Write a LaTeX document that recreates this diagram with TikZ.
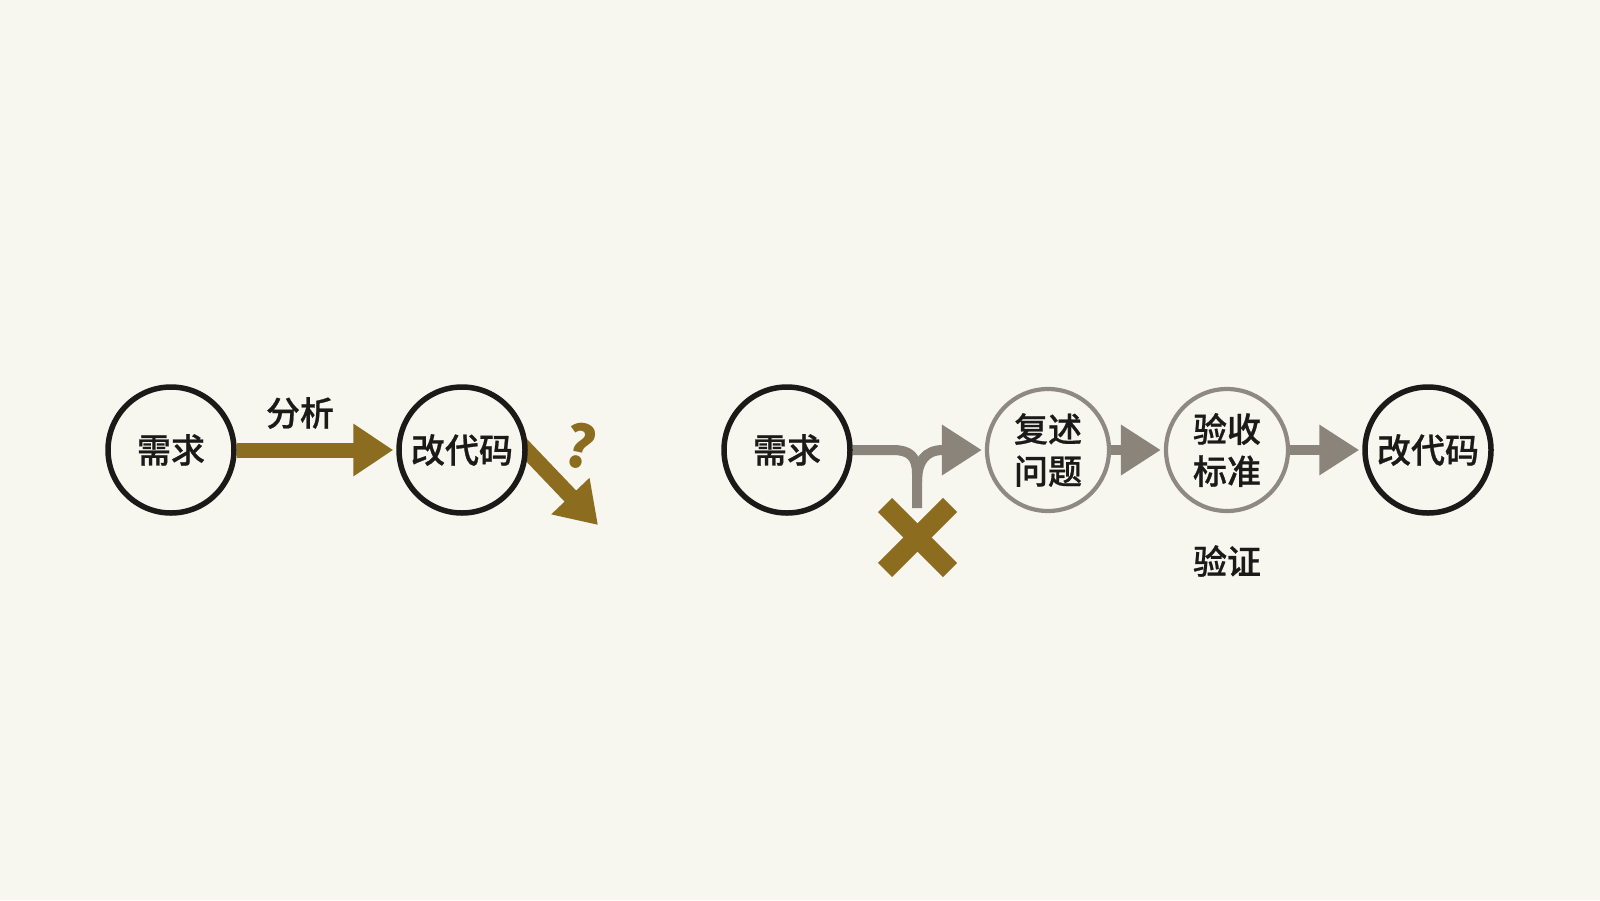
\documentclass[tikz,border=0pt]{standalone}
\usepackage{fontspec}
\newfontfamily\cjk{Noto Sans CJK SC Medium}[FakeBold=0.7]
\newfontfamily\cjkb{Noto Sans CJK SC}
\usetikzlibrary{arrows.meta}
\pgfdeclarelayer{background}
\pgfsetlayers{background,main}
\definecolor{bg}{HTML}{F7F6EF}
\definecolor{gold}{HTML}{8C6D1F}
\definecolor{arrgray}{HTML}{8A847B}
\definecolor{ringgray}{HTML}{8E8982}
\definecolor{ink}{HTML}{1C1A18}
\tikzset{
  blackring/.style={circle, draw=ink, line width=2.75pt, fill=bg, inner sep=0pt,
    minimum size=63pt, font=\cjk\fontsize{17}{21}\selectfont, text=ink, align=center},
  grayring/.style={circle, draw=ringgray, line width=2.1pt, fill=bg, inner sep=0pt,
    minimum size=61pt, font=\cjk\fontsize{17}{21}\selectfont, text=ink, align=center},
  lbl/.style={font=\cjk\fontsize{17}{21}\selectfont, text=ink, inner sep=0pt},
  goldarrow/.style={draw=gold, line width=7.5pt, -{Triangle[length=20pt,width=25pt]}, shorten >=1.5pt},
  grayarrow/.style={draw=arrgray, line width=5pt, -{Triangle[length=20pt,width=24pt]}, shorten >=1.5pt},
  grayline/.style={draw=arrgray, line width=5pt},
  crossbar/.style={draw=gold, line width=10pt, line cap=butt},
  qmark/.style={font=\cjkb\bfseries\fontsize{29}{29}\selectfont, text=gold, inner sep=0pt, rotate=-12}
}
\begin{document}
\begin{tikzpicture}[x=0.5pt,y=-0.5pt]
\begin{pgfonlayer}{background}
\fill[bg] (0,0) rectangle (1600,900);
\end{pgfonlayer}
\useasboundingbox (0,0) rectangle (1600,900);
% left group
\node[blackring] (n1) at (171,450) {需求};
\node[blackring] (n2) at (462,450) {改代码};
\node[lbl] (l1) at (300,413) {分析};
\node[qmark] (q) at (580,446) {?};
\coordinate (qtip) at (598,525);
% right group
\node[blackring] (r1) at (787,450) {需求};
\node[grayring] (r2) at (1048,450) {复述\\问题};
\node[grayring] (r3) at (1227,450) {验收\\标准};
\node[blackring] (r4) at (1428,450) {改代码};
\node[lbl] (l2) at (1227,561) {验证};
\coordinate (stemend) at (917,508);
\coordinate (fork) at (917,482);
\coordinate (xc) at (917.5,537.5);
\begin{pgfonlayer}{background}
\draw[goldarrow] (n1) -- (n2);
\draw[goldarrow, line width=8pt, shorten >=0pt] ([shift={(-30,-30)}]n2.east) -- (qtip);
\draw[grayline] (r1.east) -- (893,450) .. controls (910,450) and (917,457) .. (917,474) -- (stemend);
\draw[grayarrow] (fork) .. controls (917,462) and (925,450) .. (943,450) -- (r2.west);
\draw[grayarrow] (r2) -- (r3);
\draw[grayarrow] (r3) -- (r4);
\end{pgfonlayer}
\draw[crossbar] ([shift={(-32.5,-32.5)}]xc) -- ([shift={(32.5,32.5)}]xc);
\draw[crossbar] ([shift={(-32.5,32.5)}]xc) -- ([shift={(32.5,-32.5)}]xc);
\end{tikzpicture}
\end{document}
